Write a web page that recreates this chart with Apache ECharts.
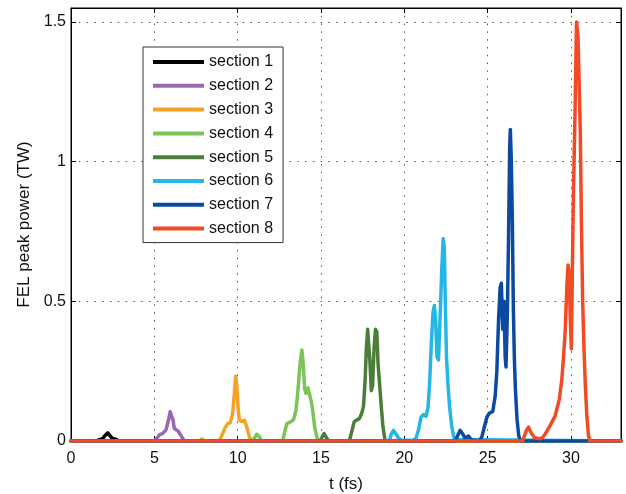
<!DOCTYPE html>
<html>
<head>
<meta charset="utf-8">
<script src="https://cdn.jsdelivr.net/npm/echarts@6/dist/echarts.min.js"></script>
<style>
  html, body { margin: 0; padding: 0; background: #fff; overflow: hidden; }
  #chart { width: 626px; height: 494px; }
</style>
</head>
<body>
<div id="chart"></div>
<script>
// FEL peak power per undulator section, [t (fs), power (TW)]
const sectionNames = ['section 1', 'section 2', 'section 3', 'section 4',
                      'section 5', 'section 6', 'section 7', 'section 8'];

const section1 = [[0,0],[1.5,0],[1.7,0.005],[1.9,0.008],[2.05,0.02],[2.2,0.029],[2.35,0.018],[2.5,0.008],[2.7,0.006],[2.9,0],[33,0]];
const section2 = [[0,0],[5.0,0],[5.15,0.01],[5.3,0.022],[5.5,0.027],[5.7,0.04],[5.85,0.075],[5.95,0.105],[6.05,0.108],[6.12,0.075],[6.2,0.045],[6.3,0.038],[6.45,0.034],[6.55,0.03],[6.65,0.015],[6.8,0],[33,0]];
const section3 = [[0,0],[7.7,0],[7.85,0.008],[8.0,0],[8.9,0],[9.05,0.02],[9.25,0.048],[9.4,0.062],[9.55,0.065],[9.7,0.1],[9.8,0.17],[9.88,0.232],[9.95,0.2],[10.02,0.12],[10.1,0.075],[10.25,0.07],[10.4,0.074],[10.55,0.05],[10.7,0.015],[10.85,0],[33,0]];
const section4 = [[0,0],[10.9,0],[11.05,0.015],[11.15,0.024],[11.3,0.015],[11.45,0],[11.85,0],[11.95,0.005],[12.05,0],[12.7,0],[12.85,0.04],[12.95,0.062],[13.15,0.068],[13.35,0.076],[13.5,0.11],[13.6,0.17],[13.75,0.28],[13.85,0.326],[13.93,0.28],[14.02,0.185],[14.1,0.17],[14.22,0.19],[14.3,0.185],[14.42,0.14],[14.5,0.11],[14.62,0.05],[14.75,0.015],[14.85,0],[33,0]];
const section5 = [[0,0],[14.95,0],[15.08,0.015],[15.18,0.027],[15.3,0.015],[15.45,0],[16.7,0],[16.85,0.035],[17.0,0.07],[17.15,0.075],[17.3,0.08],[17.45,0.1],[17.55,0.125],[17.65,0.22],[17.72,0.33],[17.8,0.4],[17.87,0.395],[17.93,0.29],[18.02,0.18],[18.1,0.2],[18.18,0.33],[18.27,0.4],[18.35,0.39],[18.42,0.28],[18.52,0.2],[18.62,0.12],[18.72,0.05],[18.85,0],[33,0]];
const section6 = [[0,0],[19.1,0],[19.22,0.025],[19.35,0.038],[19.5,0.025],[19.65,0.01],[19.8,0.004],[20.5,0.002],[20.7,0.01],[20.85,0.04],[21.0,0.085],[21.15,0.095],[21.3,0.088],[21.42,0.12],[21.52,0.21],[21.62,0.35],[21.72,0.46],[21.8,0.485],[21.88,0.43],[21.96,0.3],[22.05,0.29],[22.15,0.45],[22.25,0.62],[22.33,0.725],[22.4,0.69],[22.45,0.52],[22.53,0.3],[22.62,0.2],[22.72,0.12],[22.85,0.05],[23.0,0.005],[23.1,0],[33,0]];
const section7 = [[0,0],[23.05,0],[23.2,0.02],[23.35,0.038],[23.5,0.025],[23.65,0.01],[23.85,0.018],[24.0,0.005],[24.5,0],[24.65,0.015],[24.8,0.05],[24.95,0.085],[25.1,0.1],[25.3,0.105],[25.45,0.16],[25.55,0.25],[25.65,0.43],[25.75,0.55],[25.82,0.565],[25.9,0.4],[25.98,0.5],[26.05,0.3],[26.1,0.265],[26.18,0.45],[26.25,0.72],[26.32,1.05],[26.36,1.115],[26.42,1.0],[26.48,0.79],[26.54,0.48],[26.6,0.3],[26.66,0.19],[26.76,0.08],[26.86,0.02],[26.95,0],[33,0]];
const section8 = [[0,0],[27.1,0],[27.3,0.035],[27.45,0.05],[27.6,0.03],[27.8,0.012],[28.1,0.008],[28.3,0.012],[28.5,0.03],[28.75,0.056],[29.05,0.09],[29.3,0.15],[29.45,0.22],[29.55,0.3],[29.65,0.39],[29.75,0.55],[29.82,0.63],[29.9,0.6],[29.95,0.45],[30.02,0.33],[30.08,0.6],[30.15,0.9],[30.25,1.2],[30.33,1.5],[30.42,1.45],[30.5,1.25],[30.56,1.1],[30.62,0.8],[30.7,0.5],[30.78,0.33],[30.86,0.2],[30.95,0.09],[31.05,0.02],[31.12,0],[33,0]];

const sectionData = [section1, section2, section3, section4, section5, section6, section7, section8];
const sectionColors = ['#000000', '#9b67b3', '#f4a329', '#7cc35a', '#4b7e3a', '#25b6e8', '#0b4aa0', '#f24a24'];

const FONT = 'Liberation Sans, Arial, Helvetica, sans-serif';
const dotted = { color: '#555', width: 1, type: [1.5, 6.3] };

function frameAxis(base, pos) {
  return Object.assign({}, base, {
    position: pos,
    axisLabel: { show: false },
    splitLine: { show: false },
    name: ''
  });
}

const xBase = {
  type: 'value', min: 0, max: 33, interval: 5,
  axisLine: { show: true, onZero: false, lineStyle: { color: '#000', width: 1 } },
  axisTick: { show: true, inside: true, length: 5, lineStyle: { color: '#000' } },
  axisLabel: { color: '#111', fontSize: 16, fontFamily: FONT, margin: 10, showMaxLabel: false },
  splitLine: { show: true, lineStyle: dotted }
};
const yBase = {
  type: 'value', min: 0, max: 1.55, interval: 0.5,
  axisLine: { show: true, onZero: false, lineStyle: { color: '#000', width: 1 } },
  axisTick: { show: true, inside: true, length: 5, lineStyle: { color: '#000' } },
  axisLabel: { color: '#111', fontSize: 16, fontFamily: FONT, margin: 5 },
  splitLine: { show: true, lineStyle: dotted }
};

const chart = echarts.init(document.getElementById('chart'), null, { renderer: 'canvas' });
chart.setOption({
  animation: false,
  backgroundColor: '#fff',
  grid: { left: 71, right: 5, top: 8, bottom: 53, containLabel: false,
          outerBoundsMode: 'none',
          show: true, borderColor: '#000', borderWidth: 1 },
  xAxis: [
    Object.assign({}, xBase, {
      position: 'bottom',
      name: 't (fs)', nameLocation: 'middle', nameGap: 35,
      nameTextStyle: { color: '#111', fontSize: 17, fontFamily: FONT }
    }),
    frameAxis(xBase, 'top')
  ],
  yAxis: [
    Object.assign({}, yBase, {
      position: 'left',
      name: 'FEL peak power (TW)', nameLocation: 'middle', nameGap: 34,
      nameTextStyle: { color: '#111', fontSize: 17, fontFamily: FONT }
    }),
    frameAxis(yBase, 'right')
  ],
  legend: {
    orient: 'vertical', left: 143, top: 47,
    data: sectionNames,
    icon: 'rect', itemWidth: 51, itemHeight: 4, itemGap: 7.8,
    padding: [7, 10, 6, 10],
    backgroundColor: '#fff', borderColor: '#333', borderWidth: 1,
    textStyle: { color: '#111', fontSize: 16, fontFamily: FONT, padding: [0, 0, 0, 0] },
    selectedMode: false
  },
  series: sectionNames.map((name, i) => ({
    name: name,
    type: 'line',
    xAxisIndex: 0, yAxisIndex: 0,
    data: sectionData[i],
    showSymbol: false, symbol: 'none',
    smooth: false,
    color: sectionColors[i],
    lineStyle: { color: sectionColors[i], width: 3.5, join: 'round', cap: 'round' },
    z: 2 + i
  }))
});
</script>
</body>
</html>
